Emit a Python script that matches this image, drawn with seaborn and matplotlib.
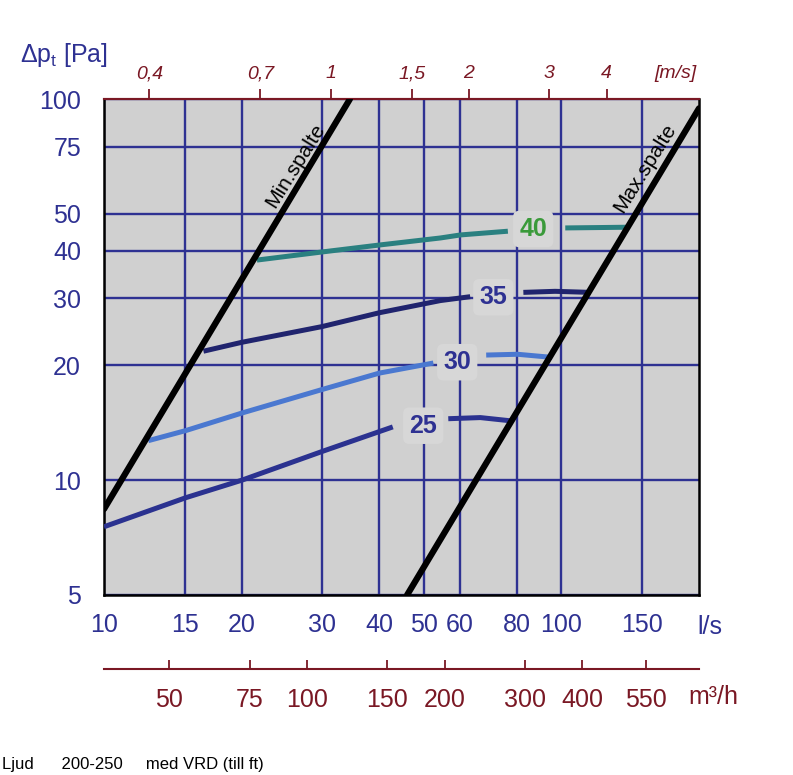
import matplotlib
matplotlib.use("Agg")
import matplotlib.pyplot as plt
from matplotlib.ticker import NullLocator
import pandas as pd
import seaborn as sns

sns.set_style("white")
plt.rcParams["font.family"] = ["Liberation Sans", "DejaVu Sans"]

BLUE = "#2e3192"
RED = "#7a1824"
BG = "#d0d0d0"

# --- axes / ticks ---------------------------------------------------------
flow_ticks = [10, 15, 20, 30, 40, 50, 60, 80, 100, 150]
dp_ticks = [5, 10, 20, 30, 40, 50, 75, 100]
vel_ticks = [0.4, 0.7, 1, 1.5, 2, 3, 4]
vel_labels = ["0,4", "0,7", "1", "1,5", "2", "3", "4"]
m3h_ticks = [50, 75, 100, 150, 200, 300, 400, 550]
duct_area = 0.0314  # m2 (Ø200)

# --- min / max spalte -----------------------------------------------------
min_q = [10, 34.5]
min_dp = [8.4, 100]
max_q = [46, 200]
max_dp = [5, 94.5]

# --- sound level curves (part before label, part after label) -------------
db25_q_a = [10, 15.1, 20, 30, 42.8]
db25_dp_a = [7.55, 9.0, 10.0, 11.9, 13.8]
db25_q_b = [56.6, 66.5, 78.2]
db25_dp_b = [14.5, 14.6, 14.3]

db30_q_a = [12.5, 15.1, 20, 30, 40, 52.5]
db30_dp_a = [12.7, 13.5, 15.0, 17.3, 19.1, 20.3]
db30_q_b = [68.5, 80.2, 95.5]
db30_dp_b = [21.3, 21.4, 21.0]

db35_q_a = [16.5, 20, 30, 40, 54.4, 63.2]
db35_dp_a = [21.8, 23.0, 25.3, 27.5, 29.6, 30.3]
db35_q_b = [82.6, 96.9, 115.7]
db35_dp_b = [31.1, 31.3, 31.1]

db40_q_a = [21.6, 30, 40, 54.4, 60.2, 76.4]
db40_dp_a = [37.8, 39.7, 41.4, 43.2, 44.0, 45.0]
db40_q_b = [102, 120, 140]
db40_dp_b = [45.9, 46.0, 46.1]

labels = ["25", "30", "35", "40"]
label_q = [49.9, 59.2, 71.0, 86.8]
label_dp = [13.9, 20.4, 30.2, 45.6]
label_colors = [BLUE, BLUE, BLUE, "#3a9a3a"]

curve_colors = {"25": "#2b3290", "30": "#4a78d0", "35": "#20246e", "40": "#2a8080"}

fig = plt.figure(figsize=(7.93, 7.75), dpi=100)
ax = fig.add_axes([104 / 793, 1 - 595 / 775, 595 / 793, 496 / 775])
ax.set_facecolor(BG)
ax.set_xscale("log")
ax.set_yscale("log")
ax.set_xlim(10, 200)
ax.set_ylim(5, 100)

# grid
ax.set_xticks(flow_ticks, labels=[str(t) for t in flow_ticks])
ax.set_yticks(dp_ticks, labels=[str(t) for t in dp_ticks])
ax.xaxis.set_minor_locator(NullLocator())
ax.yaxis.set_minor_locator(NullLocator())
ax.set_axisbelow(True)
ax.grid(True, color=BLUE, linewidth=1.7)

# curves
curves = [
    ("25", db25_q_a, db25_dp_a, db25_q_b, db25_dp_b),
    ("30", db30_q_a, db30_dp_a, db30_q_b, db30_dp_b),
    ("35", db35_q_a, db35_dp_a, db35_q_b, db35_dp_b),
    ("40", db40_q_a, db40_dp_a, db40_q_b, db40_dp_b),
]
for name, qa, pa, qb, pb in curves:
    for q, p in [(qa, pa), (qb, pb)]:
        df = pd.DataFrame({"q": q, "dp": p})
        sns.lineplot(data=df, x="q", y="dp", ax=ax, color=curve_colors[name],
                     linewidth=3.6, sort=False, zorder=3, solid_capstyle="butt")

for q, p in [(min_q, min_dp), (max_q, max_dp)]:
    df = pd.DataFrame({"q": q, "dp": p})
    sns.lineplot(data=df, x="q", y="dp", ax=ax, color="black", linewidth=4.5,
                 sort=False, zorder=4)

for txt, q, p, c in zip(labels, label_q, label_dp, label_colors):
    ax.text(q, p, txt, color=c, fontsize=18, fontweight="bold", ha="center",
            va="center", zorder=5,
            bbox=dict(boxstyle="round,pad=0.25", fc="#d7d7d7", ec="none"))

ax.text(26.2, 67, "Min.spalte", rotation=58, rotation_mode="anchor", ha="center",
        va="center", fontsize=15, color="black", zorder=5)
ax.text(152, 66, "Max.spalte", rotation=58, rotation_mode="anchor", ha="center",
        va="center", fontsize=15, color="black", zorder=5)

ax.set_xlabel("")
ax.set_ylabel("")

# spines and ticks
for s in ["left", "bottom", "right"]:
    ax.spines[s].set_color("black")
    ax.spines[s].set_linewidth(1.8)
ax.spines["top"].set_color(RED)
ax.spines["top"].set_linewidth(1.5)
ax.tick_params(axis="x", length=0, pad=13, labelsize=18, labelcolor=BLUE)
ax.tick_params(axis="y", length=6.5, width=1.5, color="black", pad=10,
               labelsize=18, labelcolor=BLUE)

# top velocity axis
top = ax.secondary_xaxis("top", functions=(lambda q: q / 1000 / duct_area,
                                           lambda v: v * duct_area * 1000))
top.set_xticks(vel_ticks, labels=vel_labels)
top.xaxis.set_minor_locator(NullLocator())
top.tick_params(direction="out", length=7, width=1.3, color=RED, labelcolor=RED,
                labelsize=14, pad=5)
for lbl in top.get_xticklabels():
    lbl.set_style("italic")
top.spines["top"].set_color(RED)
top.spines["top"].set_linewidth(1.5)

# bottom m3/h axis
bot = ax.secondary_xaxis(-0.149, functions=(lambda q: q * 3.6, lambda m: m / 3.6))
bot.set_xticks(m3h_ticks, labels=[str(t) for t in m3h_ticks])
bot.xaxis.set_minor_locator(NullLocator())
bot.tick_params(direction="in", length=6.5, width=1.3, color=RED, labelcolor=RED,
                labelsize=18, pad=14)
bot.spines["bottom"].set_color(RED)
bot.spines["bottom"].set_linewidth(1.5)

# unit labels
fig.text(20 / 793, 1 - 55 / 775, "Δp$_\\mathregular{t}$ [Pa]", color=BLUE,
         fontsize=18, ha="left", va="center")
fig.text(675 / 793, 1 - 73 / 775, "[m/s]", color=RED, fontsize=14,
         style="italic", ha="center", va="center")
fig.text(697 / 793, 1 - 627 / 775, "l/s", color=BLUE, fontsize=18,
         ha="left", va="center")
fig.text(688 / 793, 1 - 697 / 775, "m³/h", color=RED, fontsize=18,
         ha="left", va="center")
fig.text(2 / 793, 3 / 775, "Ljud      200-250     med VRD (till ft)",
         color="black", fontsize=12, ha="left", va="bottom")

fig.savefig("out.png", dpi=100)
